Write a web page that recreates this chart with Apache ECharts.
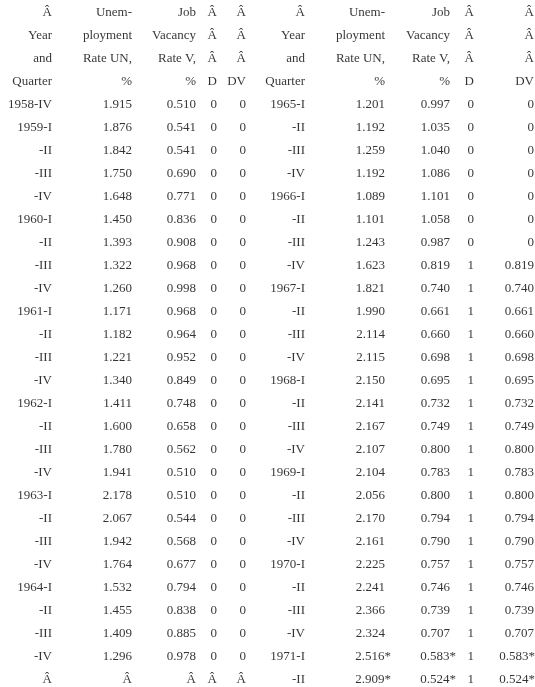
<!DOCTYPE html>
<html>
<head>
<meta charset="utf-8">
<script src="https://cdn.jsdelivr.net/npm/echarts@6/dist/echarts.min.js"></script>
<style>html,body{margin:0;padding:0;background:#fff}#main{width:535px;height:687px}</style>
</head>
<body>
<div id="main"></div>
<script>
// header lines, one array per column (4 lines each)
var headYear = ['Â', 'Year', 'and', 'Quarter'];
var headUN = ['Unem-', 'ployment', 'Rate UN,', '%'];
var headV = ['Job', 'Vacancy', 'Rate V,', '%'];
var headD = ['Â', 'Â', 'Â', 'D'];
var headDV = ['Â', 'Â', 'Â', 'DV'];

// left half
var yearL = ['1958-IV','1959-I','-II','-III','-IV','1960-I','-II','-III','-IV','1961-I','-II','-III','-IV',
  '1962-I','-II','-III','-IV','1963-I','-II','-III','-IV','1964-I','-II','-III','-IV','Â'];
var unL = ['1.915','1.876','1.842','1.750','1.648','1.450','1.393','1.322','1.260','1.171','1.182','1.221','1.340',
  '1.411','1.600','1.780','1.941','2.178','2.067','1.942','1.764','1.532','1.455','1.409','1.296','Â'];
var vL = ['0.510','0.541','0.541','0.690','0.771','0.836','0.908','0.968','0.998','0.968','0.964','0.952','0.849',
  '0.748','0.658','0.562','0.510','0.510','0.544','0.568','0.677','0.794','0.838','0.885','0.978','Â'];
var dL = ['0','0','0','0','0','0','0','0','0','0','0','0','0','0','0','0','0','0','0','0','0','0','0','0','0','Â'];
var dvL = ['0','0','0','0','0','0','0','0','0','0','0','0','0','0','0','0','0','0','0','0','0','0','0','0','0','Â'];

// right half
var yearR = ['1965-I','-II','-III','-IV','1966-I','-II','-III','-IV','1967-I','-II','-III','-IV','1968-I',
  '-II','-III','-IV','1969-I','-II','-III','-IV','1970-I','-II','-III','-IV','1971-I','-II'];
var unR = ['1.201','1.192','1.259','1.192','1.089','1.101','1.243','1.623','1.821','1.990','2.114','2.115','2.150',
  '2.141','2.167','2.107','2.104','2.056','2.170','2.161','2.225','2.241','2.366','2.324','2.516*','2.909*'];
var vR = ['0.997','1.035','1.040','1.086','1.101','1.058','0.987','0.819','0.740','0.661','0.660','0.698','0.695',
  '0.732','0.749','0.800','0.783','0.800','0.794','0.790','0.757','0.746','0.739','0.707','0.583*','0.524*'];
var dR = ['0','0','0','0','0','0','0','1','1','1','1','1','1','1','1','1','1','1','1','1','1','1','1','1','1','1'];
var dvR = ['0','0','0','0','0','0','0','0.819','0.740','0.661','0.660','0.698','0.695',
  '0.732','0.749','0.800','0.783','0.800','0.794','0.790','0.757','0.746','0.739','0.707','0.583*','0.524*'];

// column right edges (layout)
var colEdge = [52, 132, 196, 217, 246, 305, 385, 450, 474, 534];
var columns = [
  [headYear, yearL], [headUN, unL], [headV, vL], [headD, dL], [headDV, dvL],
  [headYear, yearR], [headUN, unR], [headV, vR], [headD, dR], [headDV, dvR]
];

var series = columns.map(function (col, c) {
  var cells = col[0].concat(col[1]);
  return {
    type: 'scatter',
    symbolSize: 0,
    silent: true,
    clip: false,
    data: cells.map(function (t, r) {
      var x = colEdge[c];
      if (t.slice(-1) === '*') x = Math.min(x + 6, 535);
      return [x, r, t];
    }),
    label: {
      show: true,
      position: 'inside',
      align: 'right',
      verticalAlign: 'middle',
      color: '#000',
      fontFamily: 'Liberation Serif',
      fontSize: 13,
      formatter: function (p) { return p.value[2]; }
    }
  };
});

var myChart = echarts.init(document.getElementById('main'));
var option = {
  animation: false,
  grid: { left: 0, right: 0, top: 13, bottom: 7 },
  xAxis: { type: 'value', min: 0, max: 535, show: false },
  yAxis: { type: 'value', min: 0, max: 29, inverse: true, show: false },
  series: series
};
myChart.setOption(option);
</script>
</body>
</html>
